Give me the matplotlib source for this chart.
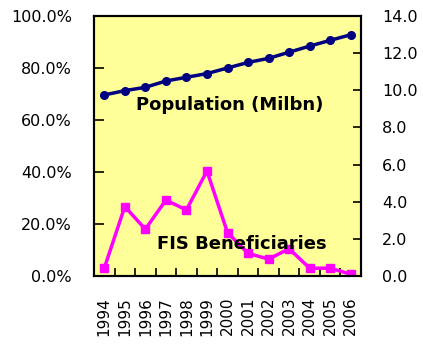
import matplotlib.pyplot as plt

# years on the x axis
years = ['1994', '1995', '1996', '1997', '1998', '1999', '2000',
         '2001', '2002', '2003', '2004', '2005', '2006']
# share of population getting FIS (left axis, %)
fis_pct = [3.0, 26.7, 18.0, 29.2, 25.4, 40.4, 16.7, 8.7, 6.5, 10.5, 3.0, 3.0, 0.7]
# population in millions (right axis)
population = [9.75, 9.98, 10.16, 10.5, 10.7, 10.9, 11.2, 11.5, 11.72,
              12.05, 12.38, 12.69, 12.99]

fig = plt.figure(figsize=(4.23, 3.47), dpi=100)
ax = fig.add_axes([94/423, 1 - 276/347, 267/423, 260/347])
ax.set_facecolor('#FFFF99')
x = list(range(len(years)))

ax.plot(x, fis_pct, color='#FF00FF', lw=2.5, marker='s', ms=6, zorder=3)
ax.set_ylim(0, 100)
ax.set_xlim(-0.5, len(years) - 0.5)
ax.set_yticks([0, 20, 40, 60, 80, 100])
ax.set_yticklabels(['%.1f%%' % v for v in [0, 20, 40, 60, 80, 100]])

ax2 = ax.twinx()
ax2.plot(x, population, color='#000080', lw=2.5, marker='o', ms=5.5, zorder=3)
ax2.set_ylim(0, 14)
ax2.set_yticks([0, 2, 4, 6, 8, 10, 12, 14])
ax2.set_yticklabels(['%.1f' % v for v in range(0, 16, 2)])

# year labels centred under points, tick marks on the boundaries
ax.set_xticks(x)
ax.set_xticklabels(years, rotation=90)
ax.tick_params(axis='x', length=0, pad=15, labelsize=11)
ax.set_xticks([i + 0.5 for i in x[:-1]], minor=True)
ax.tick_params(axis='x', which='minor', direction='in', length=6, width=1.2)
ax.tick_params(axis='y', direction='in', length=7, width=1.2, pad=16, labelsize=11.5)
ax2.tick_params(axis='y', direction='in', length=6, width=1.2, pad=15, labelsize=11.5)

for a in (ax, ax2):
    for s in a.spines.values():
        s.set_linewidth(1.5)
ax2.patch.set_visible(False)

ax.text(230/423, 1 - 105/347, 'Population (Milbn)', transform=fig.transFigure,
        ha='center', va='center', fontsize=13, fontweight='bold', zorder=5)
ax.text(242/423, 1 - 244/347, 'FIS Beneficiaries', transform=fig.transFigure,
        ha='center', va='center', fontsize=13, fontweight='bold', zorder=5)

plt.savefig('out.png', dpi=100)
